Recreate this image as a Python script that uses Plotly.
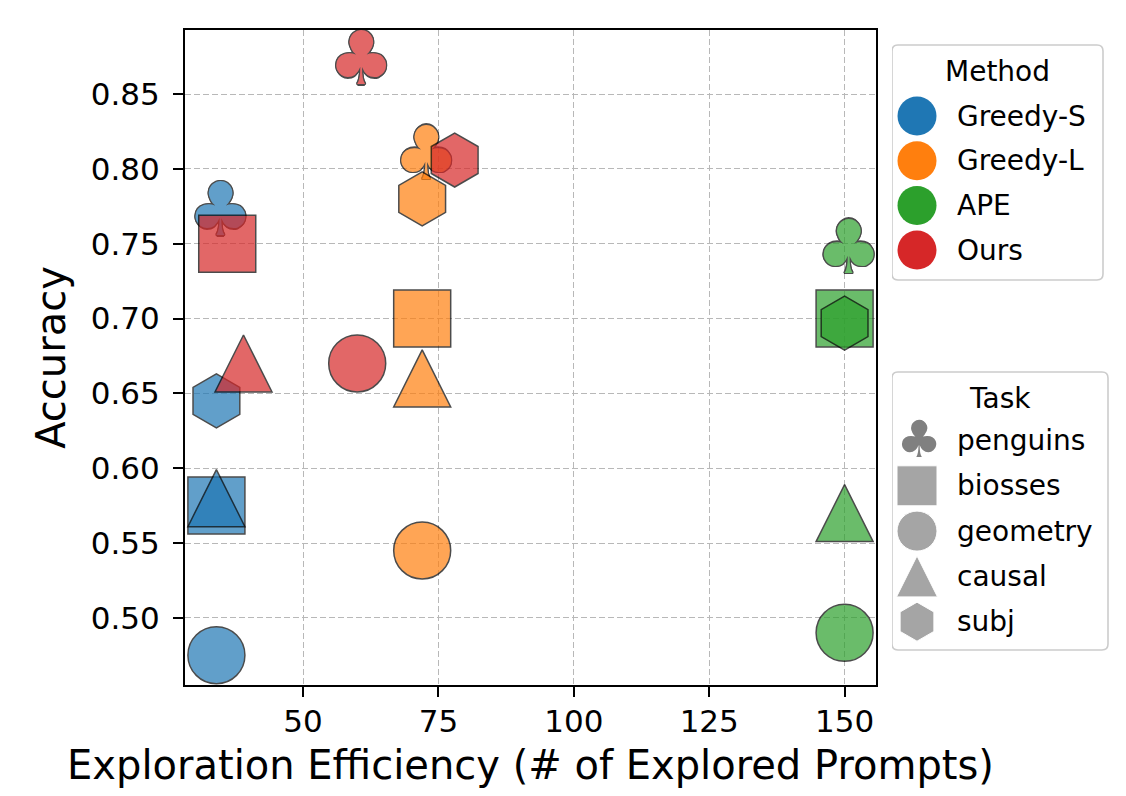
import plotly.graph_objects as go

# ---------------- data ----------------
methods = ["Greedy-S", "Greedy-L", "APE", "Ours"]
tasks = ["penguins", "biosses", "geometry", "causal", "subj"]

# explored prompts, in task order
explored_greedy_s = [34, 34, 34, 34, 34]
explored_greedy_l = [72, 72, 72, 72, 72]
explored_ape = [150, 150, 150, 150, 150]
explored_ours = [60, 36, 60, 39, 78]

# accuracy, in task order
acc_greedy_s = [0.772, 0.575, 0.475, 0.580, 0.645]
acc_greedy_l = [0.810, 0.700, 0.545, 0.660, 0.780]
acc_ape = [0.747, 0.700, 0.490, 0.570, 0.697]
acc_ours = [0.873, 0.750, 0.670, 0.670, 0.806]

x_ticks = [50, 75, 100, 125, 150]
y_ticks = [0.50, 0.55, 0.60, 0.65, 0.70, 0.75, 0.80, 0.85]

explored = [explored_greedy_s, explored_greedy_l, explored_ape, explored_ours]
accuracy = [acc_greedy_s, acc_greedy_l, acc_ape, acc_ours]

# ---------------- style ----------------
FONT = "DejaVu Sans"
method_colors = ["#1f77b4", "#ff7f0e", "#2ca02c", "#d62728"]
# upward triangle with equal width/height: arrow-down rotated 180 deg, pushed by half its size
task_symbol = {"biosses": "square", "geometry": "circle",
               "causal": "arrow-down", "subj": "hexagon"}
task_angle = {"biosses": 0, "geometry": 0, "causal": 180, "subj": 0}
task_size = {"biosses": 57, "geometry": 57, "causal": 57, "subj": 54}
legend_size = {"biosses": 40, "geometry": 40, "causal": 41, "subj": 39}
CLUB_SIZE = 74
CLUB_TEXT = '<span style="baseline-shift:-6px;letter-spacing:-8px">\u2663</span>'
outline = ("1.3px 0 0 #000, -1.3px 0 0 #000, 0 1.3px 0 #000, 0 -1.3px 0 #000, "
           "1px 1px 0 #000, -1px -1px 0 #000, 1px -1px 0 #000, -1px 1px 0 #000")

OFF = 8                      # page body margin of the html page
W, H = 1126 - 2 * OFF, 796 - 2 * OFF
# plot box in window pixels
PL, PR, PT, PB = 185, 876, 30, 685
ML, MT = PL - OFF, PT - OFF
MB = H - (PB - OFF)
LEG_L, LEG_R = 892, 1110     # legend column in window pixels
MR = W - (LEG_R - OFF)
PW = W - ML - MR

fig = go.Figure()

# ---------------- main scatter ----------------
for mi, m in enumerate(methods):
    xs, ys = explored[mi], accuracy[mi]
    # penguins -> club glyph
    fig.add_trace(go.Scatter(
        x=[xs[0]], y=[ys[0]], mode="text", text=[CLUB_TEXT],
        textposition="middle center", cliponaxis=False,
        textfont=dict(family=FONT, size=CLUB_SIZE, color=method_colors[mi], shadow=outline),
        opacity=0.7, hoverinfo="skip", showlegend=False))
    idx = [i for i, t in enumerate(tasks) if t in task_symbol]
    fig.add_trace(go.Scatter(
        x=[xs[i] for i in idx], y=[ys[i] for i in idx], mode="markers",
        cliponaxis=False,
        marker=dict(symbol=[task_symbol[tasks[i]] for i in idx],
                    size=[task_size[tasks[i]] for i in idx],
                    angle=[task_angle[tasks[i]] for i in idx],
                    standoff=[task_size[tasks[i]] / 2 if task_angle[tasks[i]] else 0 for i in idx],
                    color=method_colors[mi], opacity=0.7,
                    line=dict(color="black", width=1.5)),
        hoverinfo="skip", showlegend=False))

all_x = [v for row in explored for v in row]
all_y = [v for row in accuracy for v in row]
xspan = max(all_x) - min(all_x)
yspan = max(all_y) - min(all_y)
xr = [min(all_x) - 0.05 * xspan, max(all_x) + 0.05 * xspan]
yr = [min(all_y) - 0.05 * yspan, max(all_y) + 0.05 * yspan]

# ---------------- custom legends (helper axes in window-pixel units) ----------------
LX = 917
TEXT_X = 955
meth_y0, meth_dy, meth_title_y = 116, 44.7, 71.7
task_y0, task_dy, task_title_y = 440.5, 45.3, 398

fig.add_trace(go.Scatter(
    x=[LX] * len(methods), y=[meth_y0 + i * meth_dy for i in range(len(methods))],
    mode="markers", marker=dict(symbol="circle", size=39, color=method_colors),
    xaxis="x2", yaxis="y2", hoverinfo="skip", showlegend=False))

task_y = [task_y0 + i * task_dy for i in range(len(tasks))]
fig.add_trace(go.Scatter(
    x=[LX + 2], y=[task_y[0]], mode="text",
    text=['<span style="baseline-shift:-4px">\u2663</span>'], textposition="middle center",
    textfont=dict(family=FONT, size=51, color="#808080"),
    xaxis="x2", yaxis="y2", hoverinfo="skip", showlegend=False))
li = [i for i, t in enumerate(tasks) if t in task_symbol]
fig.add_trace(go.Scatter(
    x=[LX] * len(li), y=[task_y[i] for i in li], mode="markers",
    marker=dict(symbol=[task_symbol[tasks[i]] for i in li],
                size=[legend_size[tasks[i]] for i in li],
                angle=[task_angle[tasks[i]] for i in li],
                standoff=[legend_size[tasks[i]] / 2 if task_angle[tasks[i]] else 0 for i in li],
                color="#808080"),
    xaxis="x2", yaxis="y2", hoverinfo="skip", showlegend=False))

annotations = []
annotations.append(dict(x=(892 + 1103) / 2, y=meth_title_y, xref="x2", yref="y2",
                        text="Method", showarrow=False, xanchor="center", yanchor="middle",
                        font=dict(family=FONT, size=28, color="black")))
for i, m in enumerate(methods):
    annotations.append(dict(x=TEXT_X, y=meth_y0 + i * meth_dy, xref="x2", yref="y2",
                            text=m, showarrow=False, xanchor="left", yanchor="middle",
                            font=dict(family=FONT, size=28, color="black")))
annotations.append(dict(x=(892 + 1108) / 2, y=task_title_y, xref="x2", yref="y2",
                        text="Task", showarrow=False, xanchor="center", yanchor="middle",
                        font=dict(family=FONT, size=28, color="black")))
for i, t in enumerate(tasks):
    annotations.append(dict(x=TEXT_X, y=task_y[i], xref="x2", yref="y2",
                            text=t, showarrow=False, xanchor="left", yanchor="middle",
                            font=dict(family=FONT, size=28, color="black")))


def rounded_rect(x0, y0, x1, y1, r):
    return (f"M{x0 + r},{y0} L{x1 - r},{y0} Q{x1},{y0} {x1},{y0 + r} "
            f"L{x1},{y1 - r} Q{x1},{y1} {x1 - r},{y1} L{x0 + r},{y1} "
            f"Q{x0},{y1} {x0},{y1 - r} L{x0},{y0 + r} Q{x0},{y0} {x0 + r},{y0} Z")


shapes = [
    dict(type="path", path=rounded_rect(892, 45, 1103, 280, 6), xref="x2", yref="y2",
         line=dict(color="#cccccc", width=1.6), fillcolor="rgba(255,255,255,0.8)", layer="below"),
    dict(type="path", path=rounded_rect(892, 372, 1108, 650, 6), xref="x2", yref="y2",
         line=dict(color="#cccccc", width=1.6), fillcolor="rgba(255,255,255,0.8)", layer="below"),
]

axis_common = dict(showline=True, linecolor="black", linewidth=2, mirror=True,
                   ticks="outside", ticklen=10, tickwidth=2, tickcolor="black",
                   showgrid=True, gridcolor="#b8b8b8", gridwidth=1, griddash="6px,3px",
                   zeroline=False,
                   tickfont=dict(family=FONT, size=31, color="black"))

fig.update_layout(
    width=W, height=H,
    margin=dict(l=ML, r=MR, t=MT, b=MB, autoexpand=False),
    paper_bgcolor="white", plot_bgcolor="white",
    font=dict(family=FONT, color="black"),
    xaxis=dict(domain=[0, (PR - PL) / PW], range=xr, tickvals=x_ticks,
               ticklabelstandoff=-2,
               title=dict(text="Exploration Efficiency (# of Explored Prompts)",
                          font=dict(family=FONT, size=40), standoff=16),
               **axis_common),
    yaxis=dict(range=yr, tickvals=y_ticks, tickformat=".2f",
               ticklabelstandoff=7,
               title=dict(text="Accuracy", font=dict(family=FONT, size=40), standoff=13),
               **axis_common),
    xaxis2=dict(domain=[(LEG_L - PL) / PW, 1], range=[LEG_L, LEG_R],
                visible=False, anchor="y2", fixedrange=True),
    yaxis2=dict(domain=[0, 1], range=[PB, PT], visible=False, anchor="x2",
                fixedrange=True),
    shapes=shapes,
    annotations=annotations,
)

fig.write_html("out.html")
